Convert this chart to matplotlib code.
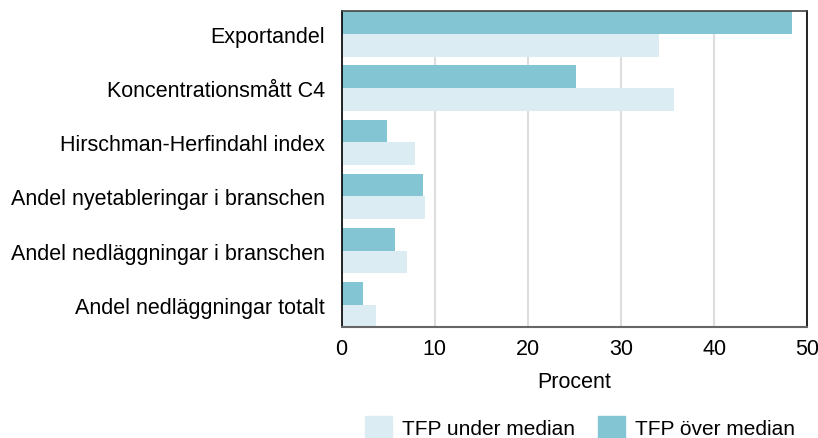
import numpy as np
import matplotlib.pyplot as plt
from matplotlib.patches import Patch

plt.rcParams['font.family'] = ['Liberation Sans', 'DejaVu Sans']

categories = ['Exportandel', 'Koncentrationsmått C4', 'Hirschman-Herfindahl index',
              'Andel nyetableringar i branschen', 'Andel nedläggningar i branschen',
              'Andel nedläggningar totalt']
over_median  = [48.3, 25.2, 4.9, 8.7, 5.7, 2.3]
under_median = [34.1, 35.7, 7.9, 8.9, 7.0, 3.7]
xticks       = [0, 10, 20, 30, 40, 50]

colOver  = '#83c5d3'
colUnder = '#dbedf3'
fs       = 15.5
h        = 0.42

fig = plt.figure(figsize=(8.18, 4.39), dpi=100)
ax  = fig.add_axes([0.4177, 0.252, 0.5694, 0.72])

y = np.arange(len(categories))
ax.barh(y - h/2, over_median, height=h, color=colOver, zorder=2)
ax.barh(y + h/2, under_median, height=h, color=colUnder, zorder=2)

ax.set_ylim(len(categories) - 1 + h, -h)
ax.set_xlim(0, 50)
ax.set_yticks(y)
ax.set_yticklabels(categories, fontsize=fs)
ax.set_xticks(xticks)
ax.set_xticklabels([str(t) for t in xticks], fontsize=fs)
ax.tick_params(axis='both', length=0, pad=8)
ax.tick_params(axis='y', pad=12)
ax.grid(axis='x', color='#dddddd', linewidth=1.5, zorder=0)
ax.set_xlabel('Procent', fontsize=fs, labelpad=8)

for s in ['left', 'right']:
    ax.spines[s].set_color('black')
    ax.spines[s].set_linewidth(1.2)
ax.spines['top'].set_color('#444444')
ax.spines['top'].set_linewidth(1.2)
ax.spines['bottom'].set_color('#666666')
ax.spines['bottom'].set_linewidth(1.5)

handles = [Patch(color=colUnder, label='TFP under median'),
           Patch(color=colOver, label='TFP över median')]
fig.legend(handles=handles, loc='center', bbox_to_anchor=(0.709, 0.025), ncol=2,
           frameon=False, fontsize=15, handlelength=1.3, handleheight=1.3,
           columnspacing=1.1, handletextpad=0.5, borderpad=0)

fig.savefig('out.png', dpi=100)
